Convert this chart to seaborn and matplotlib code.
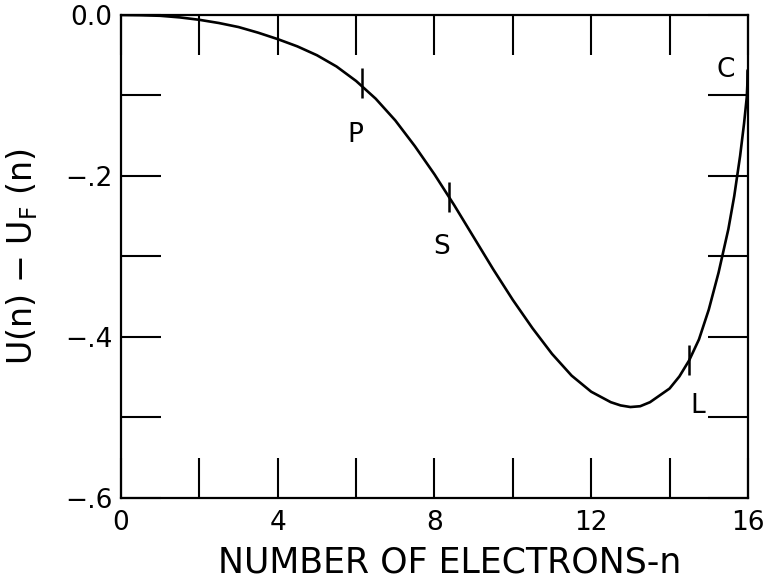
import matplotlib
matplotlib.use("Agg")
import matplotlib.pyplot as plt
import seaborn as sns
import pandas as pd

# Energy difference U(n) - U_F(n) versus number of electrons n
n_values = [0, 0.5, 1, 1.5, 2, 2.5, 3, 3.5, 4, 4.5, 5, 5.5, 6, 6.5, 7, 7.5, 8,
            8.5, 9, 9.5, 10, 10.5, 11, 11.5, 12, 12.5, 12.75, 13, 13.25, 13.5,
            14, 14.25, 14.5, 14.75, 15, 15.25, 15.5, 15.65, 15.8, 15.9, 15.97, 16]
u_values = [0.0, -0.0003, -0.001, -0.003, -0.006, -0.010, -0.015, -0.022,
            -0.030, -0.039, -0.050, -0.064, -0.082, -0.104, -0.131, -0.163,
            -0.198, -0.236, -0.276, -0.316, -0.354, -0.389, -0.421, -0.448,
            -0.468, -0.481, -0.485, -0.487, -0.486, -0.481, -0.464, -0.449,
            -0.429, -0.403, -0.366, -0.320, -0.266, -0.225, -0.175, -0.135,
            -0.102, -0.070]

# Labelled states along the curve
state_labels = ["P", "S", "L", "C"]
state_n = [6.15, 8.37, 14.5, 15.97]
state_u = [-0.084, -0.226, -0.429, -0.086]

x_ticks = [0, 2, 4, 6, 8, 10, 12, 14, 16]
x_tick_labels = ["0", "", "4", "", "8", "", "12", "", "16"]
y_ticks = [0.0, -0.1, -0.2, -0.3, -0.4, -0.5, -0.6]
y_tick_labels = ["0.0", "", "\u2212.2", "", "\u2212.4", "", "\u2212.6"]

sns.set_style("ticks")
plt.rcParams["font.family"] = ["DejaVu Sans"]
plt.rcParams["mathtext.default"] = "regular"
for key in ["text.color", "axes.labelcolor", "xtick.color", "ytick.color",
            "axes.edgecolor"]:
    plt.rcParams[key] = "black"

df = pd.DataFrame({"n": n_values, "u": u_values})

fig = plt.figure(figsize=(7.64, 5.83), dpi=100)
ax = fig.add_axes([0.1584, 0.1458, 0.8206, 0.8285])

sns.lineplot(data=df, x="n", y="u", color="black", linewidth=1.9, ax=ax,
             sort=False, estimator=None)
ax.plot(state_n, state_u, ls="none", marker="|", ms=22, mew=1.8, color="black",
        clip_on=False)

label_offsets = {"P": (-5, -38), "S": (-5, -36), "L": (6, -33), "C": (-15, 10)}
for lab, xn, yu in zip(state_labels, state_n, state_u):
    dx, dy = label_offsets[lab]
    ax.annotate(lab, (xn, yu), xytext=(dx, dy), textcoords="offset points",
                ha="center", va="center", fontsize=19, color="black")

ax.set_xlim(0, 16)
ax.set_ylim(-0.6, 0.0)
ax.set_xticks(x_ticks)
ax.set_xticklabels(x_tick_labels)
ax.set_yticks(y_ticks)
ax.set_yticklabels(y_tick_labels)

ax.tick_params(axis="both", which="major", direction="in", length=29, width=1.5,
               top=True, right=True, labelsize=19, color="black",
               labelcolor="black")
ax.tick_params(axis="x", pad=9)
ax.tick_params(axis="y", pad=6)

for side in ["left", "right", "top", "bottom"]:
    ax.spines[side].set_visible(True)
    ax.spines[side].set_linewidth(1.6)
    ax.spines[side].set_color("black")

ax.set_xlabel("NUMBER OF ELECTRONS-n", fontsize=25)
ax.set_ylabel(r"U(n) $-$ U$_F$ (n)", fontsize=24)
ax.xaxis.set_label_coords(0.525, -0.098)
ax.yaxis.set_label_coords(-0.13, 0.5)

fig.savefig("out.png", dpi=100)
